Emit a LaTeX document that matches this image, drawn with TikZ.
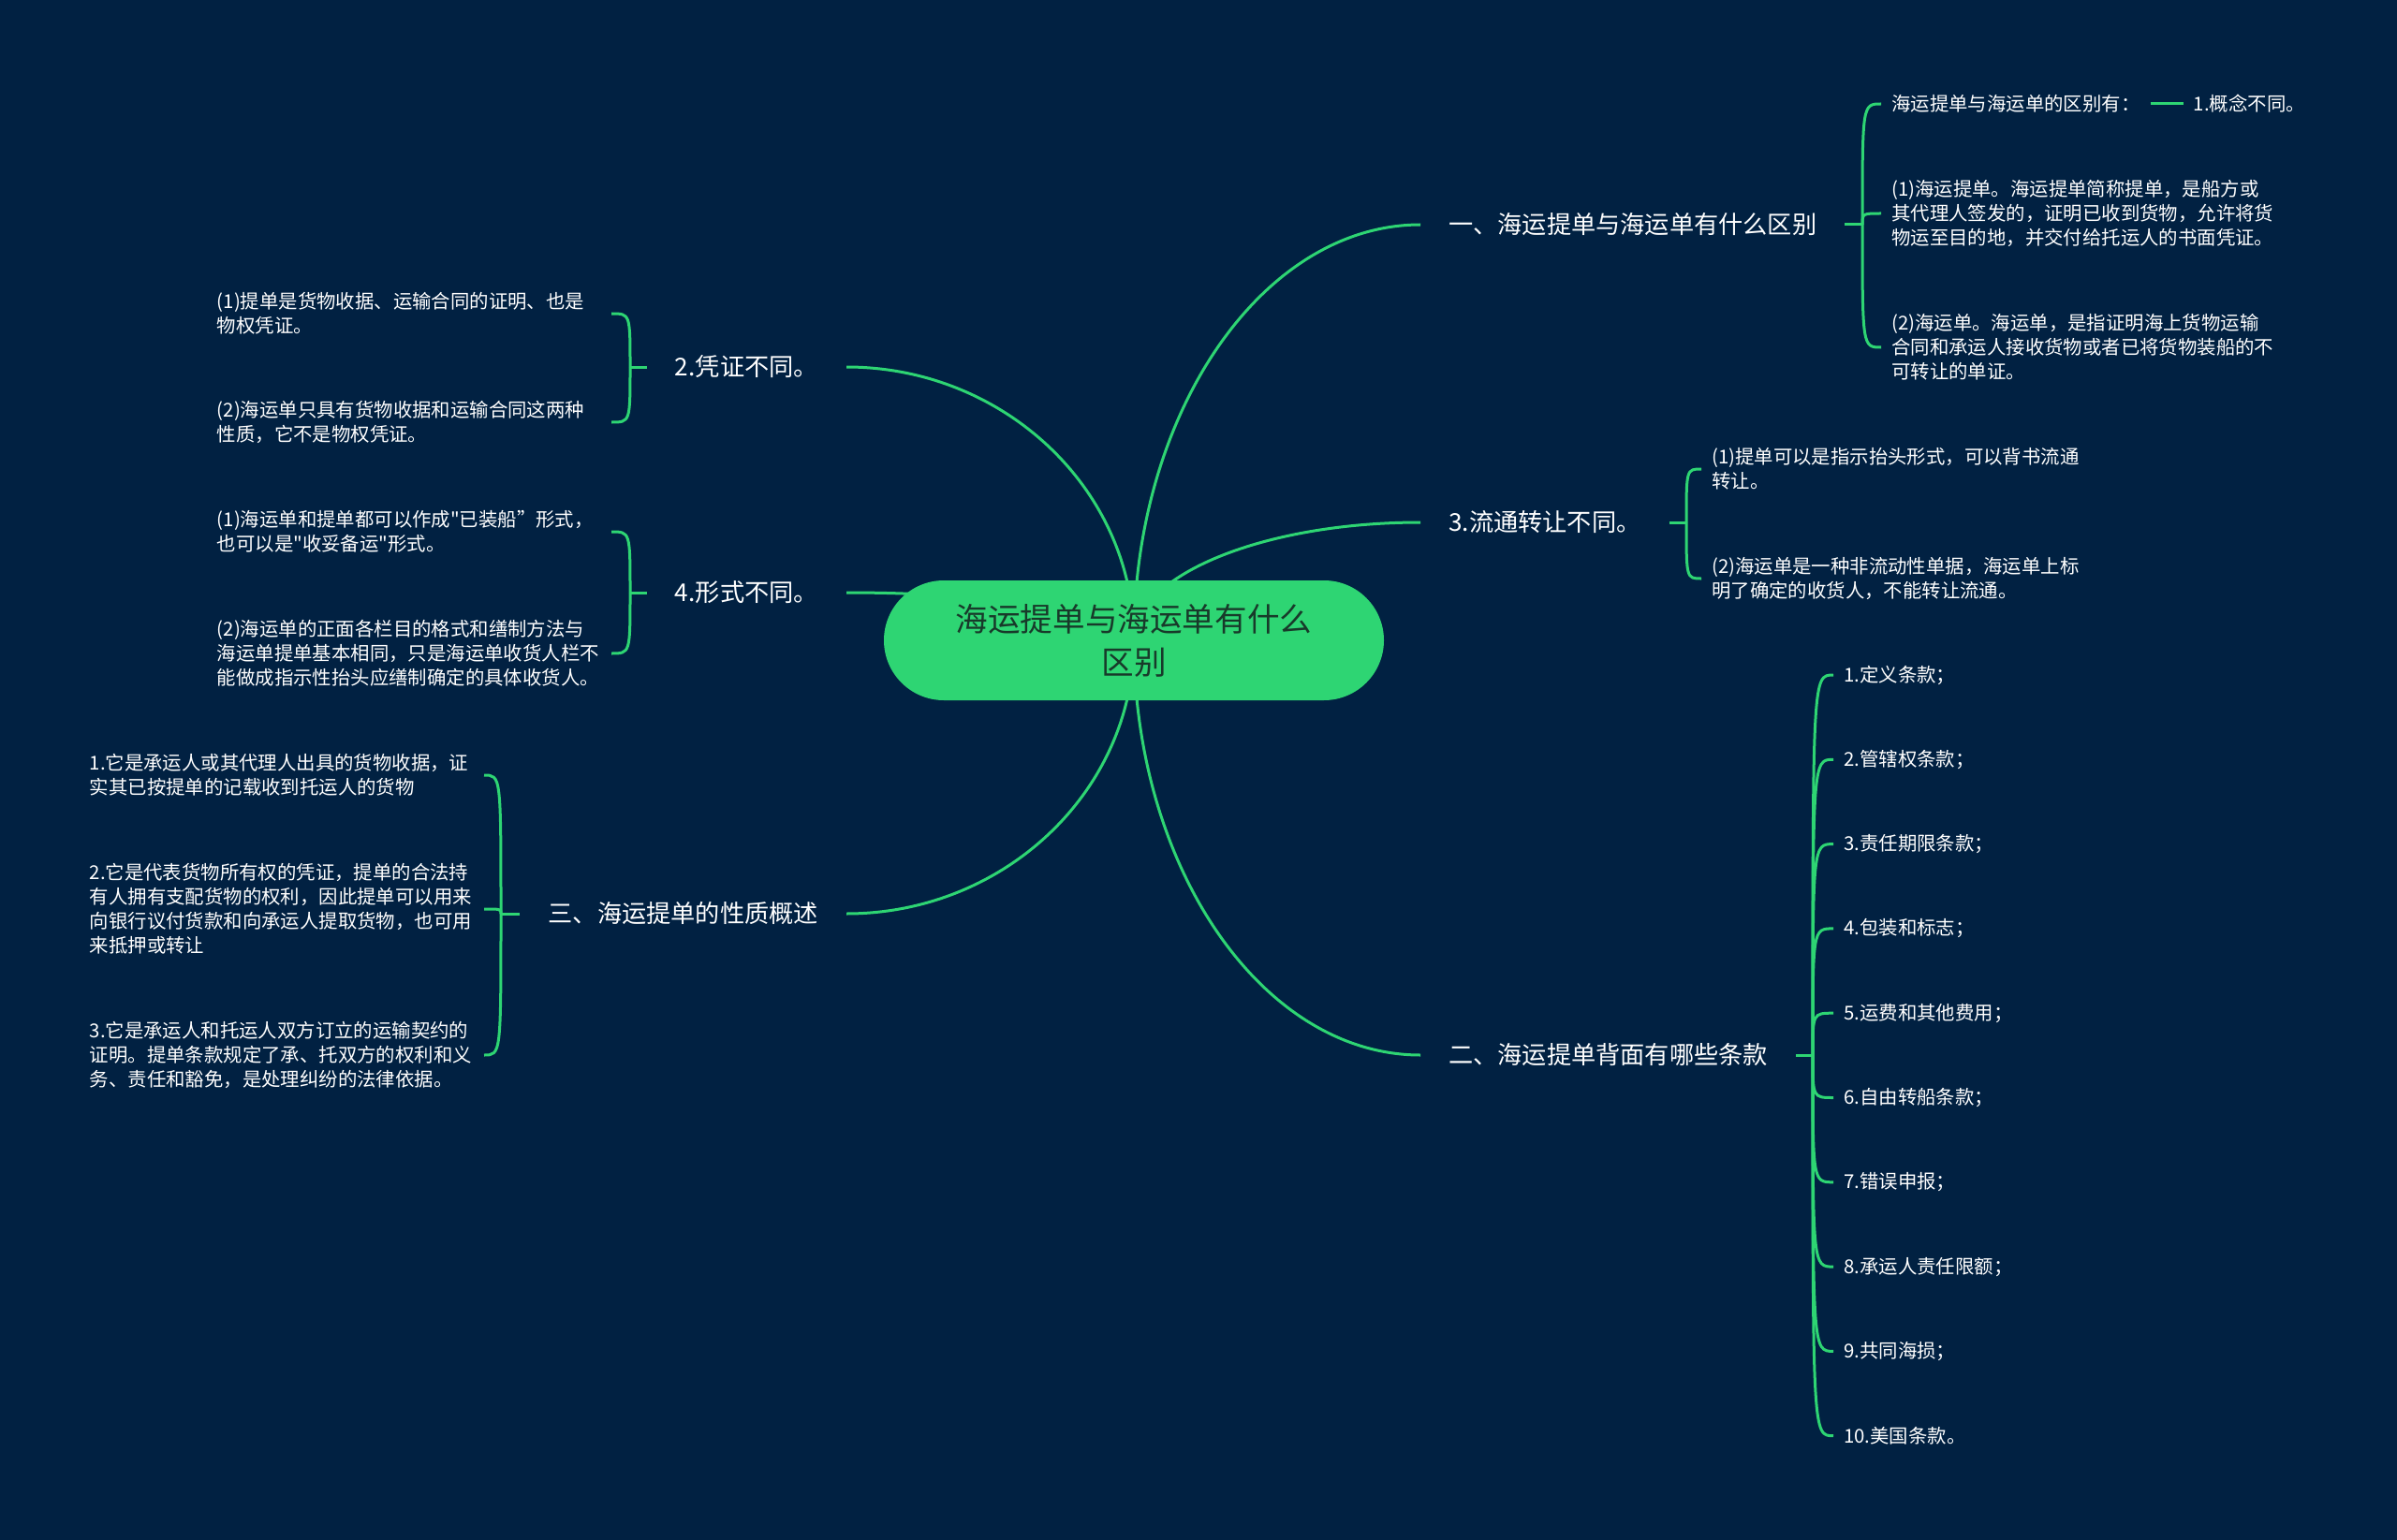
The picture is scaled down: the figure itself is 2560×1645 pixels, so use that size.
\documentclass[tikz,border=0pt]{standalone}
\usepackage{fontspec}
\newfontfamily\cjk{Noto Sans CJK SC}
\usetikzlibrary{calc, positioning, backgrounds}
\definecolor{bgnavy}{HTML}{012142}
\definecolor{mapgreen}{HTML}{2ED573}
\definecolor{rootink}{HTML}{183A2A}

\begin{document}
\begin{tikzpicture}[x=1pt, y=-1pt,
  link/.style={draw=mapgreen, line width=3pt},
  rootbox/.style={fill=mapgreen, rounded corners=64pt, minimum width=534pt,
    minimum height=128pt, align=center, text=rootink,
    font=\cjk\fontsize{34.6}{46}\selectfont},
  topic/.style={text=white, inner xsep=30pt, inner ysep=4pt,
    font=\cjk\fontsize{26.2}{31}\selectfont},
  leaf/.style={text=white, inner xsep=11pt, inner ysep=2pt, align=left,
    font=\cjk\fontsize{20.4}{26}\selectfont},
  leafwide/.style={leaf, text width=410pt},
]
  \node[rootbox] (root) at (1211,684) {海运提单与海运单有什么\\区别};

  % 右侧三个分支
  \node[topic, anchor=west] (t1) at (1517,240) {一、海运提单与海运单有什么区别};
  \node[topic, anchor=west] (t3) at (1517,558) {3.流通转让不同。};
  \node[topic, anchor=west] (t2) at (1517,1127) {二、海运提单背面有哪些条款};
  % 左侧三个分支
  \node[topic, anchor=east] (t4) at (904,392) {2.凭证不同。};
  \node[topic, anchor=east] (t5) at (904,633) {4.形式不同。};
  \node[topic, anchor=east] (t6) at (904,976) {三、海运提单的性质概述};

  \coordinate (j1) at (1989,240);
  \coordinate (j3) at (1801,558);
  \coordinate (j2) at (1936,1127);
  \coordinate (j4) at (673,392);
  \coordinate (j5) at (673,633);
  \coordinate (j6) at (535,976);

  \node[leaf, anchor=west] (l11) at (2009,111) {海运提单与海运单的区别有：};
  \node[leaf, right=35pt of l11] (l11b) {1.概念不同。};
  \node[leaf, anchor=west] (l12) at (2009,228) {(1)海运提单。海运提单简称提单，是船方或\\其代理人签发的，证明已收到货物，允许将货\\物运至目的地，并交付给托运人的书面凭证。};
  \node[leaf, anchor=west] (l13) at (2009,371) {(2)海运单。海运单，是指证明海上货物运输\\合同和承运人接收货物或者已将货物装船的不\\可转让的单证。};

  \node[leaf, anchor=west] (l31) at (1817,501) {(1)提单可以是指示抬头形式，可以背书流通\\转让。};
  \node[leaf, anchor=west] (l32) at (1817,618) {(2)海运单是一种非流动性单据，海运单上标\\明了确定的收货人，不能转让流通。};

  \foreach \i/\txt in {1/定义条款；, 2/管辖权条款；, 3/责任期限条款；, 4/包装和标志；,
    5/运费和其他费用；, 6/自由转船条款；, 7/错误申报；, 8/承运人责任限额；,
    9/共同海损；, 10/美国条款。}
    \node[leaf, anchor=west] (l2\i) at (1958,{721+90.3*(\i-1)}) {\i.\txt};

  \node[leafwide, anchor=east] (l41) at (653,335) {(1)提单是货物收据、运输合同的证明、也是\\物权凭证。};
  \node[leafwide, anchor=east] (l42) at (653,451) {(2)海运单只具有货物收据和运输合同这两种\\性质，它不是物权凭证。};
  \node[leafwide, anchor=east] (l51) at (653,568) {(1)海运单和提单都可以作成"已装船”形式，\\也可以是"收妥备运"形式。};
  \node[leafwide, anchor=east] (l52) at (653,698) {(2)海运单的正面各栏目的格式和缮制方法与\\海运单提单基本相同，只是海运单收货人栏不\\能做成指示性抬头应缮制确定的具体收货人。};

  \node[leafwide, anchor=east] (l61) at (517,828) {1.它是承运人或其代理人出具的货物收据，证\\实其已按提单的记载收到托运人的货物};
  \node[leafwide, anchor=east] (l62) at (517,971) {2.它是代表货物所有权的凭证，提单的合法持\\有人拥有支配货物的权利，因此提单可以用来\\向银行议付货款和向承运人提取货物，也可用\\来抵押或转让};
  \node[leafwide, anchor=east] (l63) at (517,1127) {3.它是承运人和托运人双方订立的运输契约的\\证明。提单条款规定了承、托双方的权利和义\\务、责任和豁免，是处理纠纷的法律依据。};

  \begin{scope}[on background layer]
    \fill[bgnavy] (0,0) rectangle (2560,1645);
    \foreach \t/\s in {t1/west, t3/west, t2/west, t4/east, t5/east, t6/east}
      \draw[link] (root.center)
        .. controls ($(root.center)!0.55!(root.center |- \t.\s)$)
        and ($(\t.\s)!0.55!(root.center |- \t.\s)$) .. (\t.\s);
  \end{scope}

  \draw[link] (t1.east) -- (j1);
  \draw[link] (t3.east) -- (j3);
  \draw[link] (t2.east) -- (j2);
  \draw[link] (t4.west) -- (j4);
  \draw[link] (t5.west) -- (j5);
  \draw[link] (t6.west) -- (j6);
  \draw[link] (l11) -- (l11b);

  \foreach \l in {l11,l12,l13}
    \draw[link] (j1) .. controls (j1 |- \l.west) .. (\l.west);
  \foreach \l in {l31,l32}
    \draw[link] (j3) .. controls (j3 |- \l.west) .. (\l.west);
  \foreach \i in {1,...,10}
    \draw[link] (j2) .. controls (j2 |- l2\i.west) .. (l2\i.west);
  \foreach \l in {l41,l42}
    \draw[link] (j4) .. controls (j4 |- \l.east) .. (\l.east);
  \foreach \l in {l51,l52}
    \draw[link] (j5) .. controls (j5 |- \l.east) .. (\l.east);
  \foreach \l in {l61,l62,l63}
    \draw[link] (j6) .. controls (j6 |- \l.east) .. (\l.east);
\end{tikzpicture}
\end{document}
